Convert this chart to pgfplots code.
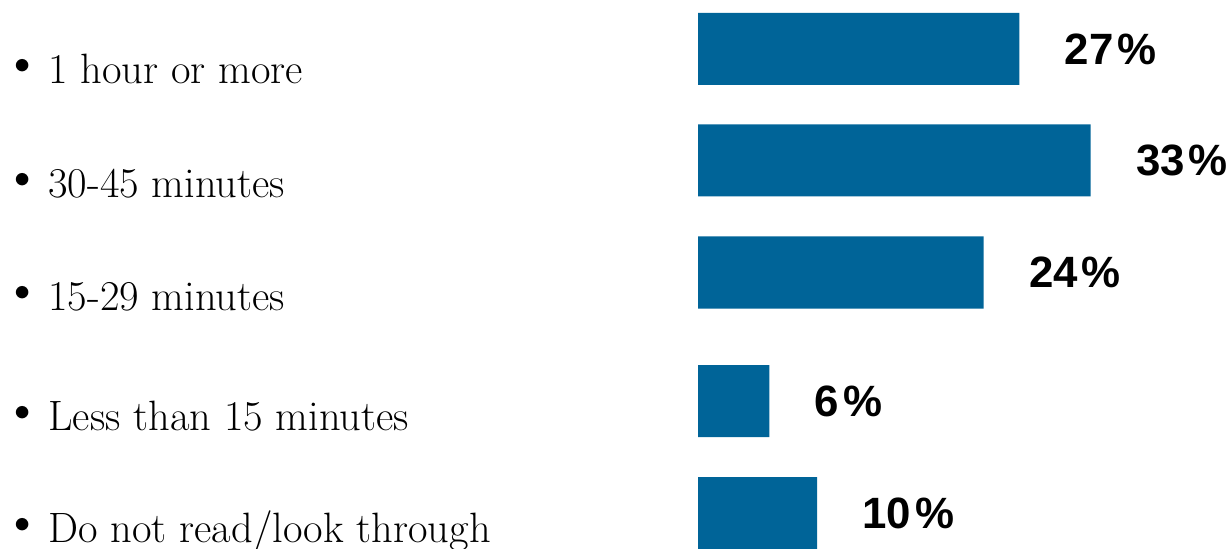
\documentclass[border=0pt]{standalone}
\usepackage{fontspec}
\usepackage{pgfplots}
\pgfplotsset{compat=1.18}
\newfontfamily\pctfont{Liberation Sans}
\definecolor{barblue}{RGB}{0,100,152}

% one bulleted category label: baseline (bp from bottom), text
\newcommand{\lbl}[2]{%
  \node[anchor=base west, inner sep=0pt, font=\fontsize{21.3}{24}\selectfont] at (24,#1) {#2};
  \node[anchor=base, inner sep=0pt, font=\fontsize{28}{30}\selectfont] at (11.5,#1+1.5) {\textbullet};
}

\begin{document}
\begin{tikzpicture}[x=1bp,y=1bp]
\useasboundingbox (0,0) rectangle (614,274);
\begin{axis}[
    at={(349bp,0bp)}, anchor=south west,
    scale only axis, width=265bp, height=274bp,
    xmin=0, xmax=44.54, ymin=-548, ymax=0,
    hide axis,
    xbar, bar width=36bp,
    point meta=x,
    nodes near coords={\pgfmathprintnumber[assume math mode=true]{\pgfplotspointmeta}\hspace{2bp}\%},
    nodes near coords style={anchor=west, inner sep=0pt, xshift=22.5bp,
        font=\pctfont\bfseries\fontsize{22}{24}\selectfont, text=black},
    clip=false,
]
\addplot[fill=barblue, draw=none]
    coordinates {(27,-49) (33,-160.5) (24,-272.5) (6,-401) (10,-513)};
\end{axis}
\lbl{232.5}{1 hour or more}
\lbl{175.5}{30-45 minutes}
\lbl{119}{15-29 minutes}
\lbl{59}{Less than 15 minutes}
\lbl{3}{Do not read/look through}
\end{tikzpicture}
\end{document}
